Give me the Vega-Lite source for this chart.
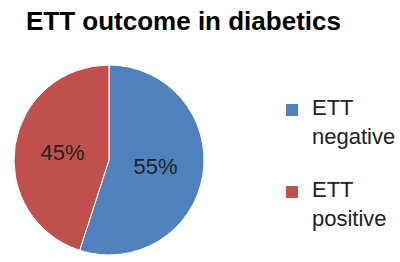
{
  "$schema": "https://vega.github.io/schema/vega-lite/v6.json",
  "width": 190,
  "height": 190,
  "autosize": {"type": "none"},
  "padding": {"left": 14, "top": 65, "right": 196, "bottom": 7},
  "background": "white",
  "title": {
    "text": "ETT outcome in diabetics",
    "anchor": "start",
    "font": "Liberation Sans",
    "fontSize": 26,
    "fontWeight": "bold",
    "color": "#000000",
    "baseline": "alphabetic",
    "dx": 14,
    "offset": 7
  },
  "data": {
    "values": [
      {"outcome": "ETT negative", "pct": 55, "label": "55%", "order": 1},
      {"outcome": "ETT positive", "pct": 45, "label": "45%", "order": 2}
    ]
  },
  "encoding": {
    "theta": {"field": "pct", "type": "quantitative", "stack": true},
    "order": {"field": "order", "type": "quantitative"},
    "color": {
      "field": "outcome",
      "type": "nominal",
      "scale": {"domain": ["ETT negative", "ETT positive"], "range": ["#4F81BD", "#C0504D"]},
      "legend": {
        "orient": "none",
        "legendX": 267,
        "legendY": 34,
        "title": null,
        "symbolType": "square",
        "symbolSize": 144,
        "symbolStrokeWidth": 0,
        "symbolOpacity": 1,
        "labelFont": "Liberation Sans",
        "labelFontSize": 22,
        "labelColor": "#222222",
        "labelLimit": 200,
        "labelOffset": 9,
        "labelBaseline": "alphabetic",
        "labelExpr": "split(datum.label, ' ')",
        "rowPadding": 31,
        "encoding": {
          "labels": {"dy": {"value": 5}, "lineHeight": {"value": 29}}
        }
      }
    }
  },
  "layer": [
    {"mark": {"type": "arc", "stroke": "#ffffff", "strokeWidth": 1}},
    {
      "mark": {"type": "text", "radius": 47, "font": "Liberation Sans", "fontSize": 22, "color": "#222222", "align": "center", "baseline": "middle"},
      "encoding": {"text": {"field": "label", "type": "nominal"}, "color": {"value": "#222222"}}
    }
  ]
}
